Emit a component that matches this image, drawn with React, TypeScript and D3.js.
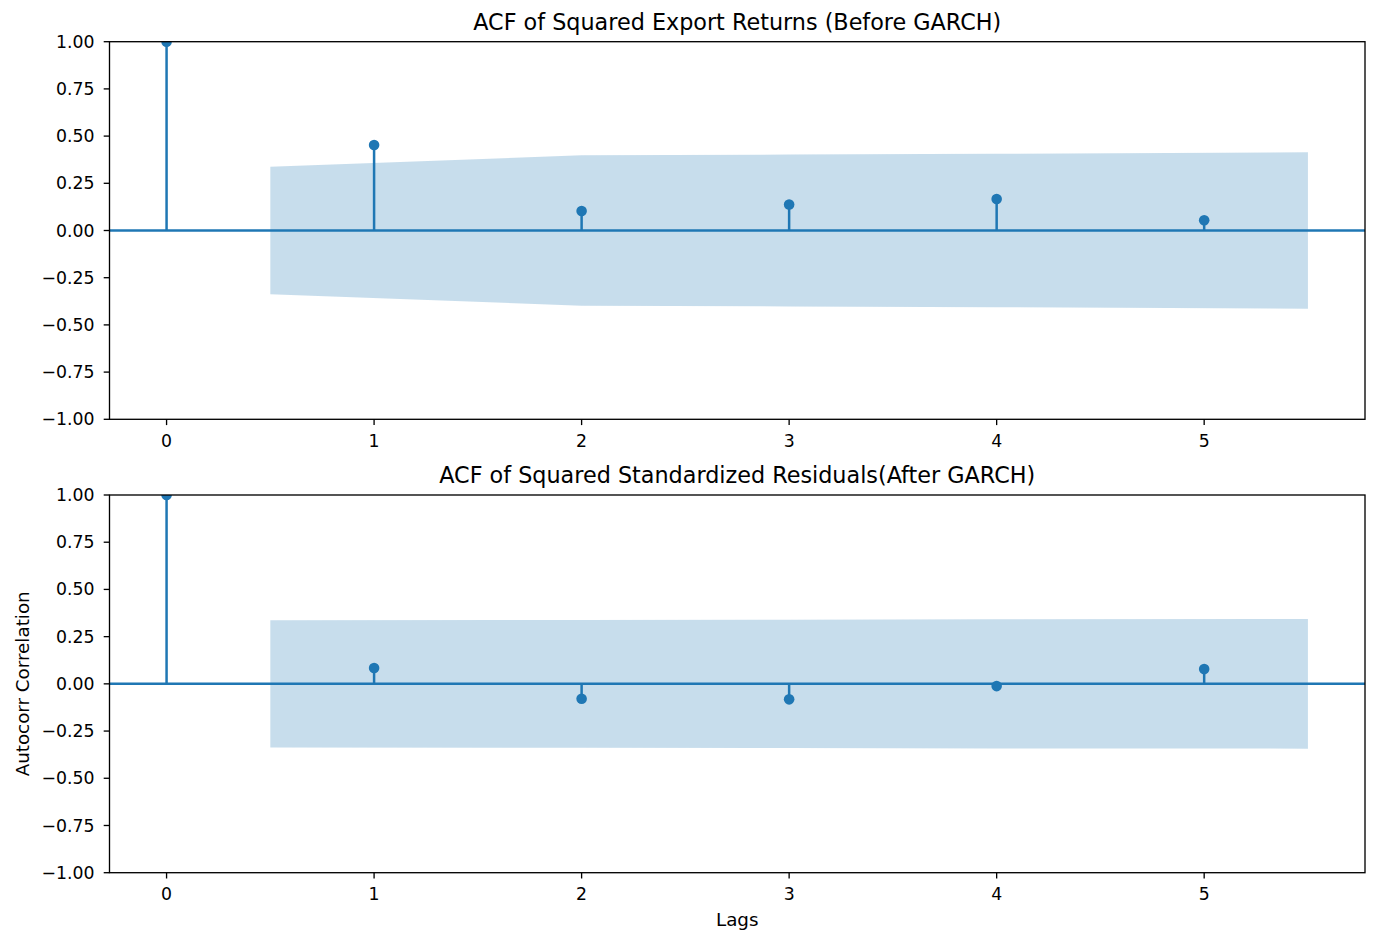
import React, { useEffect } from 'react';
import * as d3 from 'd3';

const lags = [0, 1, 2, 3, 4, 5];

// ACF of squared export returns (before GARCH)
const acfBefore = [1.0, 0.453, 0.103, 0.138, 0.167, 0.054];
const bandBefore = [0.337, 0.398, 0.402, 0.406, 0.414];

// ACF of squared standardized residuals (after GARCH)
const acfAfter = [1.0, 0.084, -0.079, -0.082, -0.012, 0.078];
const bandAfter = [0.337, 0.338, 0.340, 0.342, 0.343];

const yTicks = [-1, -0.75, -0.5, -0.25, 0, 0.25, 0.5, 0.75, 1];

const titles = [
  'ACF of Squared Export Returns (Before GARCH)',
  'ACF of Squared Standardized Residuals(After GARCH)',
];

const W = 1378;
const H = 943;
const left = 109.5;
const right = 1365;
const panels = [
  { top: 41.7, bottom: 419.3, acf: acfBefore, band: bandBefore, title: titles[0] },
  { top: 495, bottom: 872.7, acf: acfAfter, band: bandAfter, title: titles[1] },
];

const blue = '#1f77b4';
const font = 'DejaVu Sans, sans-serif';
const fmt = (v: number) => d3.format('.2f')(v).replace('-', '\u2212');

const Panel: React.FC<{ p: typeof panels[number]; showXLabel: boolean; showYLabel: boolean }> = ({ p, showXLabel, showYLabel }) => {
  const x = d3.scaleLinear().domain([-0.275, 5.775]).range([left, right]);
  const y = d3.scaleLinear().domain([-1, 1]).range([p.bottom, p.top]);

  // band x positions: first lag shifted left by .5, last shifted right by .5
  const bandLags = lags.slice(1).map((l, i, a) => (i === 0 ? l - 0.5 : i === a.length - 1 ? l + 0.5 : l));
  const bandPts = bandLags.map((l, i) => ({ l, v: p.band[i] }));
  const area = d3.area<{ l: number; v: number }>()
    .x(d => x(d.l))
    .y0(d => y(-d.v))
    .y1(d => y(d.v));

  return (
    <g>
      <defs>
        <clipPath id={`clip-${p.top}`}>
          <rect x={left} y={p.top} width={right - left} height={p.bottom - p.top} />
        </clipPath>
      </defs>
      <g clipPath={`url(#clip-${p.top})`}>
        <path d={area(bandPts) || ''} fill={blue} fillOpacity={0.25} />
        <line x1={left} x2={right} y1={y(0)} y2={y(0)} stroke={blue} strokeWidth={2.5} />
        {lags.map((l, i) => (
          <line key={`v${l}`} x1={x(l)} x2={x(l)} y1={y(0)} y2={y(p.acf[i])} stroke={blue} strokeWidth={2.5} />
        ))}
        {lags.map((l, i) => (
          <circle key={`c${l}`} cx={x(l)} cy={y(p.acf[i])} r={5.3} fill={blue} />
        ))}
      </g>
      <rect x={left} y={p.top} width={right - left} height={p.bottom - p.top} fill="none" stroke="#000" strokeWidth={1.33} />
      {yTicks.map(t => (
        <g key={`y${t}`}>
          <line x1={left - 5.8} x2={left} y1={y(t)} y2={y(t)} stroke="#000" strokeWidth={1.33} />
          <text x={left - 15} y={y(t)} dy="0.35em" textAnchor="end" fontSize={17.3} fontFamily={font}>{fmt(t)}</text>
        </g>
      ))}
      {lags.map(t => (
        <g key={`x${t}`}>
          <line x1={x(t)} x2={x(t)} y1={p.bottom} y2={p.bottom + 5.8} stroke="#000" strokeWidth={1.33} />
          <text x={x(t)} y={p.bottom + 27.5} textAnchor="middle" fontSize={17.3} fontFamily={font}>{t}</text>
        </g>
      ))}
      <text x={(left + right) / 2} y={p.top - 12} textAnchor="middle" fontSize={22.3} fontFamily={font}>{p.title}</text>
      {showXLabel && (
        <text x={(left + right) / 2} y={p.bottom + 53.5} textAnchor="middle" fontSize={18.3} fontFamily={font}>Lags</text>
      )}
      {showYLabel && (
        <text transform={`translate(29,${(p.top + p.bottom) / 2}) rotate(-90)`} textAnchor="middle" fontSize={18.3} fontFamily={font}>Autocorr Correlation</text>
      )}
    </g>
  );
};

export default function App() {
  useEffect(() => {
    document.body.style.margin = '0';
  }, []);
  return (
    <svg width={W} height={H} viewBox={`0 0 ${W} ${H}`} style={{ display: 'block', background: '#fff' }}>
      {panels.map((p, i) => (
        <Panel key={i} p={p} showXLabel={i === 1} showYLabel={i === 1} />
      ))}
    </svg>
  );
}
